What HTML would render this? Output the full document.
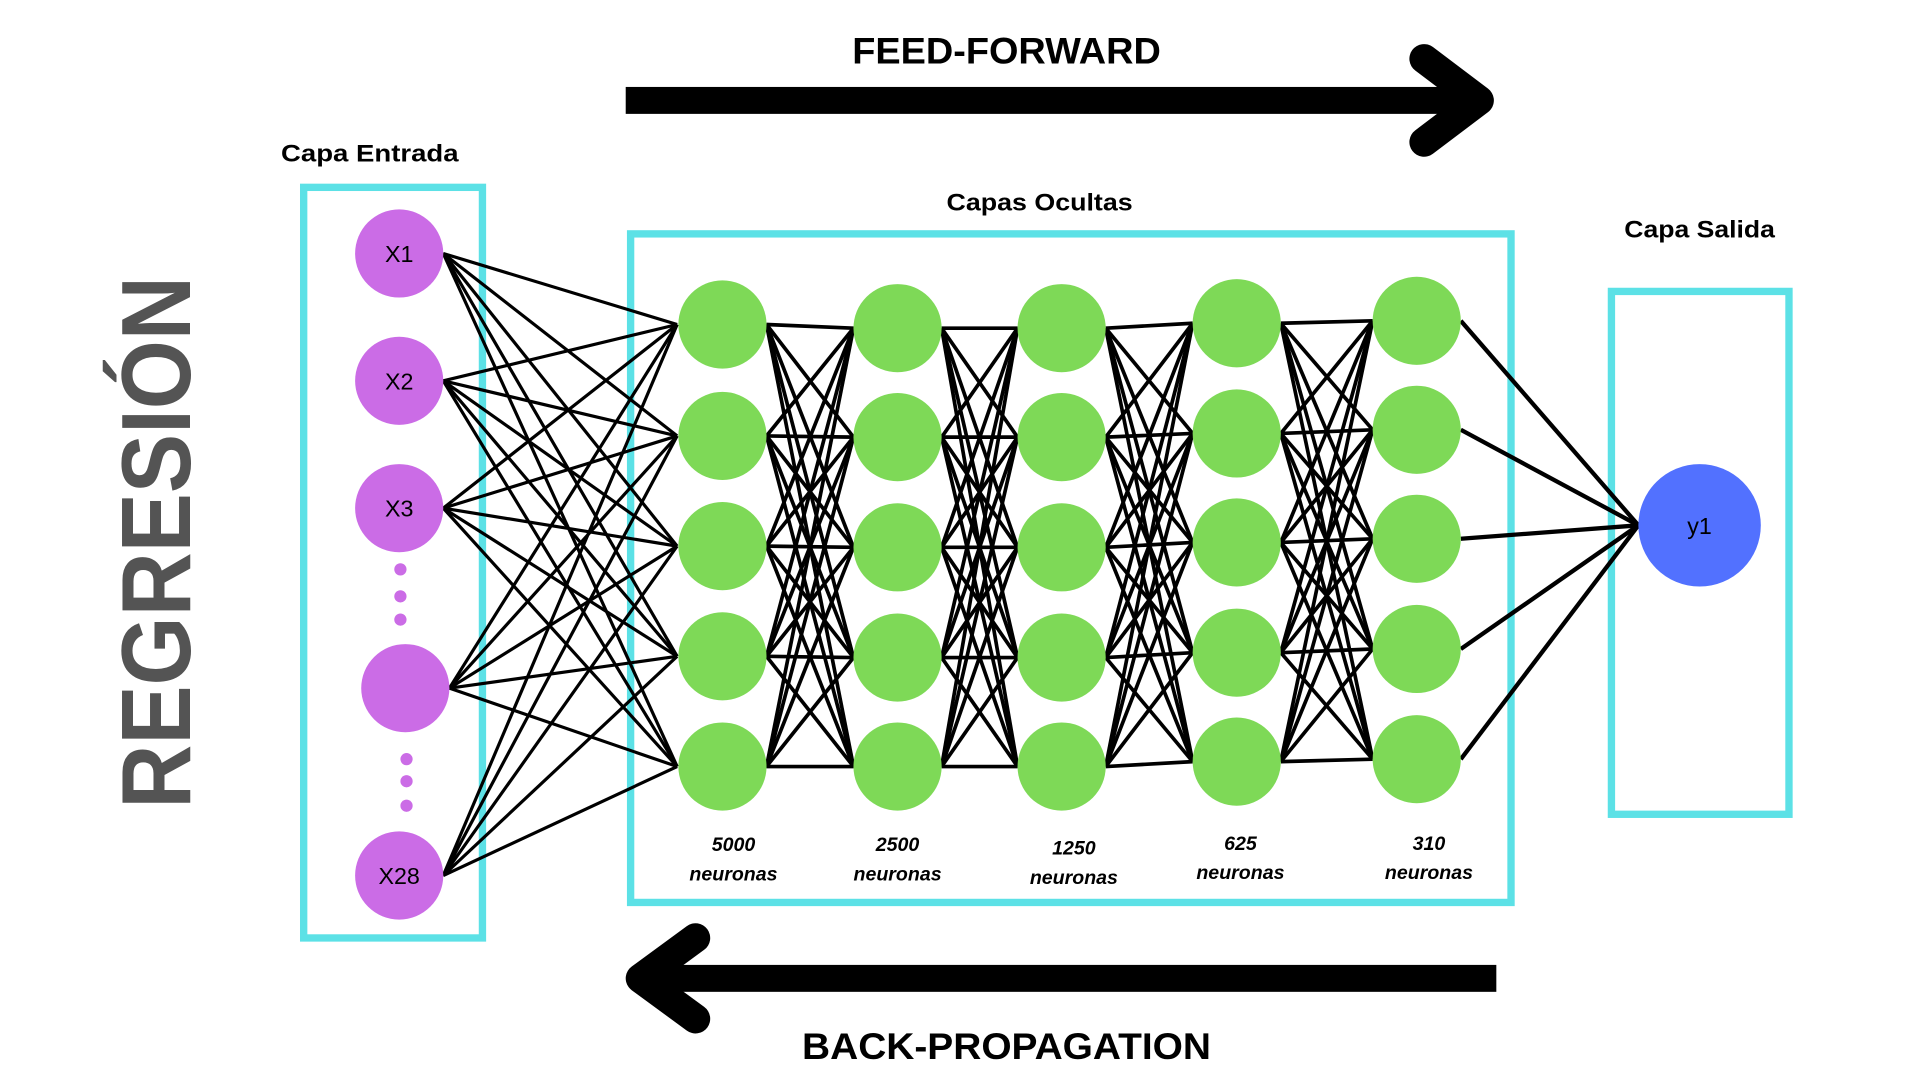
<!DOCTYPE html>
<html><head><meta charset="utf-8"><style>
html,body{margin:0;padding:0;background:#fff;width:1920px;height:1080px;overflow:hidden}
svg{display:block}
text{font-family:"Liberation Sans",sans-serif}
</style></head><body>
<svg id="s" width="1920" height="1080" viewBox="0 0 1568 882" preserveAspectRatio="none" xmlns="http://www.w3.org/2000/svg">
<rect width="1568" height="882" fill="#fff"/>
<text x="822" y="52" text-anchor="middle" font-size="30" font-weight="bold" textLength="252" lengthAdjust="spacingAndGlyphs">FEED-FORWARD</text>
<text x="822" y="865" text-anchor="middle" font-size="30" font-weight="bold" textLength="334" lengthAdjust="spacingAndGlyphs">BACK-PROPAGATION</text>
<rect x="511" y="71" width="690" height="22" fill="#000"/>
<polyline points="1163,48 1208,82 1163,116" fill="none" stroke="#000" stroke-width="24" stroke-linecap="round" stroke-linejoin="round"/>
<rect x="530" y="788" width="692" height="22" fill="#000"/>
<polyline points="568,766 523,799 568,832" fill="none" stroke="#000" stroke-width="24" stroke-linecap="round" stroke-linejoin="round"/>
<text transform="translate(155,443) rotate(-90)" text-anchor="middle" font-size="80" font-weight="bold" fill="#545454" textLength="435" lengthAdjust="spacingAndGlyphs">REGRESIÓN</text>
<text x="302" y="132" text-anchor="middle" font-size="20" font-weight="bold" textLength="145" lengthAdjust="spacingAndGlyphs">Capa Entrada</text>
<text x="849" y="172" text-anchor="middle" font-size="20" font-weight="bold" textLength="152" lengthAdjust="spacingAndGlyphs">Capas Ocultas</text>
<text x="1388" y="194" text-anchor="middle" font-size="20" font-weight="bold" textLength="123" lengthAdjust="spacingAndGlyphs">Capa Salida</text>
<rect x="248" y="153" width="146" height="613" fill="none" stroke="#5ce1e6" stroke-width="6"/>
<rect x="515" y="191" width="719" height="546" fill="none" stroke="#5ce1e6" stroke-width="6"/>
<rect x="1316" y="238" width="145" height="427" fill="none" stroke="#5ce1e6" stroke-width="6"/>
<g id="lines" stroke="#000" stroke-width="2.6" fill="none"></g>
<g id="nodes"></g>
<g font-size="16" font-weight="bold" font-style="italic" text-anchor="middle">
<text x="599" y="695">5000</text><text x="599" y="719">neuronas</text>
<text x="733" y="695">2500</text><text x="733" y="719">neuronas</text>
<text x="877" y="698">1250</text><text x="877" y="722">neuronas</text>
<text x="1013" y="694">625</text><text x="1013" y="718">neuronas</text>
<text x="1167" y="694">310</text><text x="1167" y="718">neuronas</text>
</g>
</svg>
<script>
var NS="http://www.w3.org/2000/svg";
var L=document.getElementById("lines"),N=document.getElementById("nodes");
function el(p,tag,a){var e=document.createElementNS(NS,tag);for(var k in a)e.setAttribute(k,a[k]);p.appendChild(e);return e;}
function line(x1,y1,x2,y2,w){el(L,"line",{x1:x1,y1:y1,x2:x2,y2:y2,"stroke-width":w||2.6});}
var inp=[[326,207,"X1"],[326,311,"X2"],[326,415,"X3"],[331,562,""],[326,715,"X28"]];
var cx=[590,733,867,1010,1157];
var cy=[[265,356,446,536,626],[268,357,447,537,626],[268,357,447,537,626],[264,354,443,533,622],[262,351,440,530,620]];
inp.forEach(function(p){cy[0].forEach(function(y){line(p[0]+36,p[1],553,y);});});
for(var c=0;c<4;c++){cy[c].forEach(function(y1){cy[c+1].forEach(function(y2){line(cx[c]+36,y1,cx[c+1]-36,y2,3);});});}
cy[4].forEach(function(y){line(1193,y,1338,429,3.5);});
inp.forEach(function(p){el(N,"circle",{cx:p[0],cy:p[1],r:36,fill:"#cb6ce6"});
 if(p[2]){var t=el(N,"text",{x:p[0],y:p[1]+7,"text-anchor":"middle","font-size":"19"});t.textContent=p[2];}});
[[327,465],[327,487],[327,506],[332,620],[332,638],[332,658]].forEach(function(d){el(N,"circle",{cx:d[0],cy:d[1],r:5,fill:"#cb6ce6"});});
for(var c=0;c<5;c++)cy[c].forEach(function(y){el(N,"ellipse",{cx:cx[c],cy:y,rx:36,ry:36,fill:"#7ed957"});});
el(N,"ellipse",{cx:1388,cy:429,rx:50,ry:50,fill:"#5271ff"});
var t=el(N,"text",{x:1388,y:436,"text-anchor":"middle","font-size":"19"});t.textContent="y1";
</script>
</body></html>
